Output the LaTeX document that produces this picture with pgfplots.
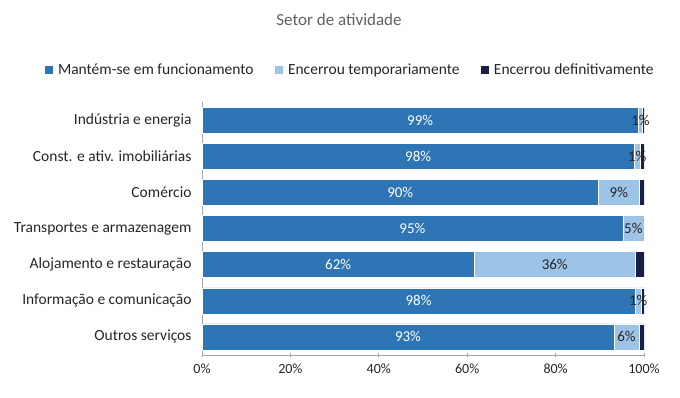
\documentclass[border=0pt]{standalone}
\usepackage{pgfplots}
\pgfplotsset{compat=1.18}
\usepackage{fontspec}
\setmainfont{Carlito}
\definecolor{cA}{HTML}{2E75B6}
\definecolor{cB}{HTML}{9DC3E6}
\definecolor{cC}{HTML}{1C1F45}
\definecolor{txt}{HTML}{262626}
\definecolor{axg}{HTML}{A6A6A6}
\begin{document}
\begin{tikzpicture}[x=1pt,y=1pt]
\path[use as bounding box] (0,0) rectangle (680,397);
\pgfplotsset{common/.style={
  at={(202pt,42pt)}, anchor=south west, scale only axis,
  width=442pt, height=253pt,
  xmin=0, xmax=100, ymin=-0.5, ymax=6.5, y dir=reverse,
}}
\begin{axis}[common,
  xbar stacked, bar width=0.72,
  axis lines=left, axis line style={axg, line width=0.9pt, -},
  xtick={0,20,40,60,80,100},
  xticklabels={0\%,20\%,40\%,60\%,80\%,100\%},
  xtick style={axg, line width=0.9pt},
  tick align=center, major tick length=4pt,
  ytick={0,1,2,3,4,5,6},
  yticklabels={Indústria e energia, Const. e ativ. imobiliárias, Comércio, Transportes e armazenagem, Alojamento e restauração, Informação e comunicação, Outros serviços},
  ytick style={draw=none},
  xticklabel style={font=\fontsize{14}{16}\selectfont, text=txt, yshift=-3pt},
  yticklabel style={font=\fontsize{15.5}{18}\selectfont, text=txt, xshift=-5pt},
  /pgf/number format/assume math mode=true,
  legend style={at={(0.334,1.128)}, anchor=center, draw=none, fill=none,
    font=\fontsize{15.5}{18}\selectfont, text=txt,
    legend columns=3, /tikz/every odd column/.append style={column sep=3pt}, /tikz/every even column/.append style={column sep=18pt}},
  legend image code/.code={\fill[#1] (0pt,-4.5pt) rectangle (9pt,4.5pt);},
  title={Setor de atividade},
  title style={at={(0.31,1.30)}, anchor=center, font=\fontsize{17}{20}\selectfont, text=black!62},
]
\addplot[fill=cA, draw=white, line width=0.4pt] coordinates {(98.7,0) (97.8,1) (89.7,2) (95.2,3) (61.6,4) (98.0,5) (93.2,6)};
\addplot[fill=cB, draw=white, line width=0.4pt] coordinates {(1.0,0) (1.3,1) (9.2,2) (4.8,3) (36.4,4) (1.4,5) (5.7,6)};
\addplot[fill=cC, draw=white, line width=0.4pt] coordinates {(0.3,0) (0.9,1) (1.1,2) (0,3) (2.0,4) (0.6,5) (1.1,6)};
\legend{Mantém-se em funcionamento, Encerrou temporariamente, Encerrou definitivamente}
\end{axis}
\begin{axis}[common, hide axis]
\addplot[draw=none, mark=none, nodes near coords, point meta=explicit symbolic,
  nodes near coords style={anchor=center, text=white, font=\fontsize{15}{18}\selectfont}]
  coordinates {(49.35,0) [99\%] (48.9,1) [98\%] (44.85,2) [90\%] (47.6,3) [95\%] (30.8,4) [62\%] (49.0,5) [98\%] (46.6,6) [93\%]};
\addplot[draw=none, mark=none, nodes near coords, point meta=explicit symbolic,
  nodes near coords style={anchor=center, text=txt, font=\fontsize{15}{18}\selectfont}]
  coordinates {(99.2,0) [1\%] (98.45,1) [1\%] (94.3,2) [9\%] (97.6,3) [5\%] (79.8,4) [36\%] (98.7,5) [1\%] (96.05,6) [6\%]};
\end{axis}
\end{tikzpicture}
\end{document}
